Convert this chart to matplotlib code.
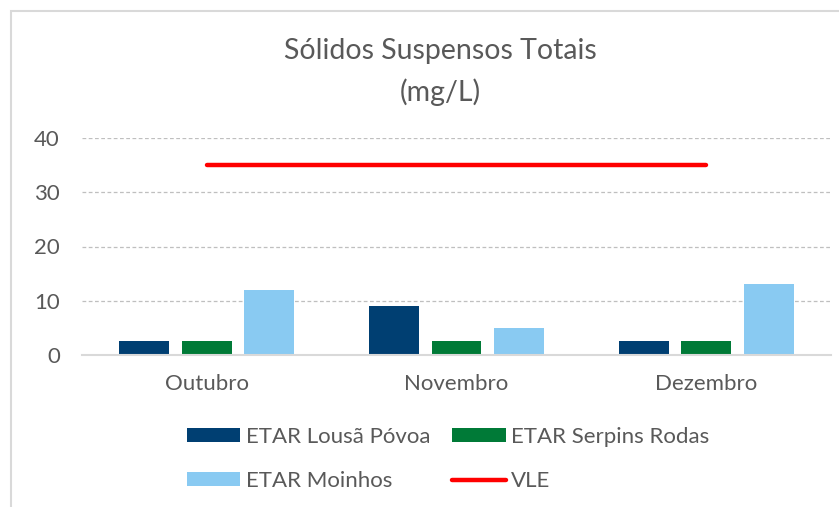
import matplotlib.pyplot as plt
import numpy as np
from matplotlib.patches import Rectangle

plt.rcParams['font.family'] = ['Lato', 'DejaVu Sans']

# Dados
meses = ['Outubro', 'Novembro', 'Dezembro']
lousa_povoa = [2.5, 9, 2.5]
serpins_rodas = [2.5, 2.5, 2.5]
moinhos = [12, 5, 13]
vle = [35, 35, 35]

cor_texto = '#595959'

fig = plt.figure(figsize=(8.39, 5.07), dpi=100)
ax = fig.add_axes([82 / 839, 1 - 355 / 507, (831 - 82) / 839, (355 - 138) / 507])

x = np.arange(len(meses))
largura = 0.2
b1 = ax.bar(x - 0.25, lousa_povoa, largura, color='#003F72', label='ETAR Lousã Póvoa', zorder=3)
b2 = ax.bar(x, serpins_rodas, largura, color='#007A37', label='ETAR Serpins Rodas', zorder=3)
b3 = ax.bar(x + 0.25, moinhos, largura, color='#89CAF2', label='ETAR Moinhos', zorder=3)
l1, = ax.plot(x, vle, color='#FF0000', linewidth=3.2, solid_capstyle='round', label='VLE', zorder=4)

ax.set_xlim(-0.5, 2.5)
ax.set_ylim(0, 40)
ax.set_yticks([0, 10, 20, 30, 40])
ax.set_xticks(x)
ax.set_xticklabels(meses)
ax.tick_params(axis='both', length=0, labelsize=16, colors=cor_texto)
ax.tick_params(axis='y', pad=16)
ax.tick_params(axis='x', pad=14)

ax.yaxis.grid(True, linestyle=(0, (3, 2)), color='#BFBFBF', linewidth=0.9, zorder=0)
for lado in ['top', 'right', 'left']:
    ax.spines[lado].set_visible(False)
ax.spines['bottom'].set_color('#D9D9D9')
ax.spines['bottom'].set_linewidth(1.5)
ax.spines['bottom'].set_zorder(5)

fig.text(440 / 839, 1 - 51 / 507, 'Sólidos Suspensos Totais', ha='center', va='center',
         fontsize=20.5, color=cor_texto)
fig.text(440 / 839, 1 - 92 / 507, '(mg/L)', ha='center', va='center',
         fontsize=20.5, color=cor_texto)

# ordem por colunas: Lousã/Moinhos | Serpins/VLE
leg = fig.legend([b1, b3, b2, l1],
                 ['ETAR Lousã Póvoa', 'ETAR Moinhos', 'ETAR Serpins Rodas', 'VLE'],
                 loc='center', bbox_to_anchor=(448 / 839, 1 - 459 / 507), ncol=2,
                 frameon=False, fontsize=16, handlelength=2.4, handleheight=0.6,
                 handletextpad=0.25, columnspacing=1.0, labelspacing=1.1)
for t in leg.get_texts():
    t.set_color(cor_texto)

fig.patches.append(Rectangle((11 / 839, -0.1), 1.0, 1 - 11 / 507 + 0.1,
                             transform=fig.transFigure, fill=False,
                             edgecolor='#D9D9D9', linewidth=1.5))

plt.savefig('out.png', dpi=100)
plt.close()
